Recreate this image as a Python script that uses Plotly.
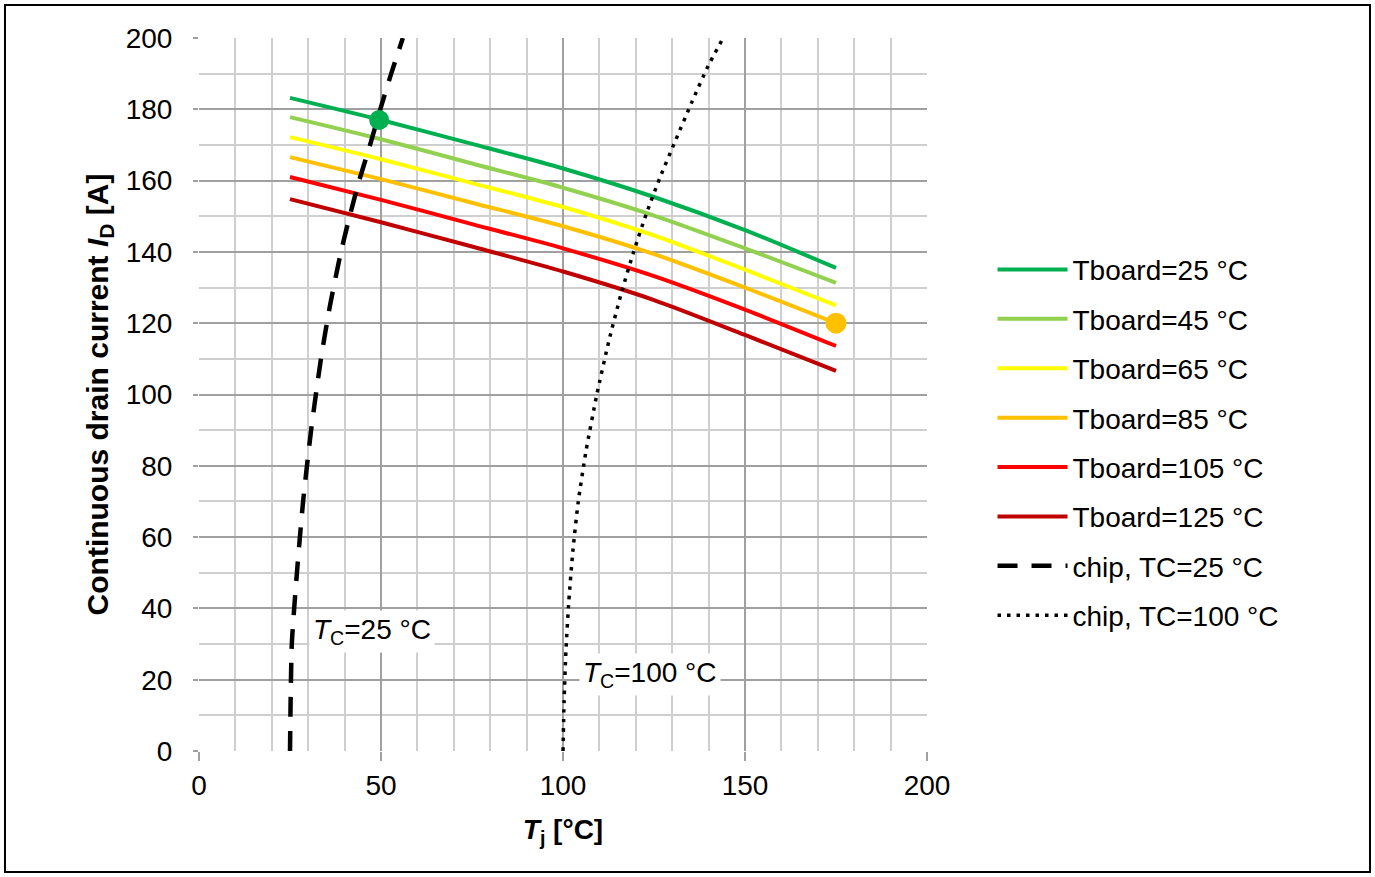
import plotly.graph_objects as go

# Junction temperature grid for the Tboard curves
tj = [25, 50, 75, 100, 125, 150, 175]

tboard_labels = ["Tboard=25 °C", "Tboard=45 °C", "Tboard=65 °C",
                 "Tboard=85 °C", "Tboard=105 °C", "Tboard=125 °C"]
tboard_colors = ["#00B050", "#92D050", "#FFFF00", "#FFC000", "#FF0000", "#C00000"]

id_tb25 = [183.2, 177.0, 170.3, 163.4, 155.4, 146.1, 135.5]
id_tb45 = [177.8, 171.6, 164.8, 158.0, 150.2, 141.0, 131.3]
id_tb65 = [172.2, 166.0, 159.3, 152.6, 144.6, 135.0, 125.0]
id_tb85 = [166.6, 160.4, 153.8, 147.2, 139.4, 130.0, 120.0]
id_tb105 = [161.0, 154.6, 147.8, 141.0, 133.2, 123.8, 113.6]
id_tb125 = [154.8, 148.3, 141.5, 134.5, 126.5, 116.7, 106.6]
tboard_series = [id_tb25, id_tb45, id_tb65, id_tb85, id_tb105, id_tb125]

# Chip limit curves (Tj as function of ID)
chip_id = [0, 30, 50, 70, 90, 110, 125, 140, 150, 160, 170, 180, 190, 200]
chip25_tj = [25.0, 25.5, 26.9, 28.6, 30.8, 33.5, 36.0, 39.0, 41.4, 44.0, 47.0, 49.8, 52.8, 56.0]

chip100_id = [0, 14, 28, 42, 56, 70, 84, 100, 115, 128, 140, 151, 161, 171, 182, 192, 200]
chip100_tj = [100.0, 100.3, 100.8, 101.6, 102.7, 104.2, 106.3, 109.3, 112.6, 115.9, 119.4,
              123.0, 126.7, 130.8, 135.4, 139.8, 144.0]

# Highlighted operating points
pt_green = (49.5, 177.0)
pt_orange = (175.0, 120.0)

FONT = "Liberation Sans, Arial, sans-serif"

fig = go.Figure()

for lbl, col, ys in zip(tboard_labels, tboard_colors, tboard_series):
    fig.add_trace(go.Scatter(x=tj, y=ys, mode="lines", name=lbl,
                             line=dict(color=col, width=4, shape="spline", smoothing=0.8),
                             legendgroup=lbl))

fig.add_trace(go.Scatter(x=chip25_tj, y=chip_id, mode="lines", name="chip, TC=25 °C",
                         line=dict(color="black", width=4.5, dash="20px,14px", shape="spline",
                                   smoothing=0.6),
                         legendgroup="c25"))
fig.add_trace(go.Scatter(x=chip100_tj, y=chip100_id, mode="lines", name="chip, TC=100 °C",
                         line=dict(color="black", width=3.5, dash="3.5px,6px", shape="spline",
                                   smoothing=0.6),
                         legendgroup="c100"))

fig.add_trace(go.Scatter(x=[pt_green[0]], y=[pt_green[1]], mode="markers", showlegend=False,
                         marker=dict(color="#00B050", size=20)))
fig.add_trace(go.Scatter(x=[pt_orange[0]], y=[pt_orange[1]], mode="markers", showlegend=False,
                         marker=dict(color="#FFC000", size=21)))

fig.add_annotation(x=30.2, y=33.5, xref="x", yref="y", xanchor="left", yanchor="middle",
                   text="<i>T</i><sub>C</sub>=25 °C", showarrow=False,
                   font=dict(family=FONT, size=28, color="black"),
                   bgcolor="white", borderpad=3)
fig.add_annotation(x=104.3, y=21.5, xref="x", yref="y", xanchor="left", yanchor="middle",
                   text="<i>T</i><sub>C</sub>=100 °C", showarrow=False,
                   font=dict(family=FONT, size=28, color="black"),
                   bgcolor="white", borderpad=3)

# Outer frame around the whole picture
fig.add_shape(type="rect", xref="paper", yref="paper",
              x0=-0.2665, x1=1.6085, y0=-0.1697, y1=1.0463,
              line=dict(color="black", width=2), fillcolor="rgba(0,0,0,0)", layer="above")

axis_common = dict(
    showgrid=True, gridcolor="#a0a0a0", gridwidth=1.5,
    zeroline=False, showline=False,
    ticks="outside", tickcolor="#a0a0a0", tickwidth=1.5,
    tickfont=dict(family=FONT, size=28, color="black"),
    minor=dict(dtick=10, showgrid=True, gridcolor="#cfcfcf", gridwidth=1.5, ticks=""),
)

fig.update_xaxes(range=[0, 200], tick0=0, dtick=50, ticklen=9, **axis_common,
                 title=dict(text="<b><i>T</i><sub>j</sub> [°C]</b>",
                            font=dict(family=FONT, size=28, color="black"), standoff=19))
fig.update_yaxes(range=[0, 200], tick0=0, dtick=20, ticklen=5, ticklabelstandoff=15,
                 **axis_common,
                 title=dict(text="<b>Continuous drain current <i>I</i><sub>D</sub> [A]</b>",
                            font=dict(family=FONT, size=30, color="black"), standoff=8))

fig.update_layout(
    width=1375, height=877,
    margin=dict(l=199, r=448, t=38, b=126, autoexpand=False),
    paper_bgcolor="white", plot_bgcolor="white",
    font=dict(family=FONT, size=28, color="black"),
    showlegend=True,
    legend=dict(x=1.09, y=0.71, xanchor="left", yanchor="top",
                font=dict(family=FONT, size=28, color="black"),
                tracegroupgap=10, itemwidth=70, bgcolor="rgba(0,0,0,0)"),
)

fig.write_html("out.html", config={"displayModeBar": False},
               post_script="document.body.style.margin='0px';")
